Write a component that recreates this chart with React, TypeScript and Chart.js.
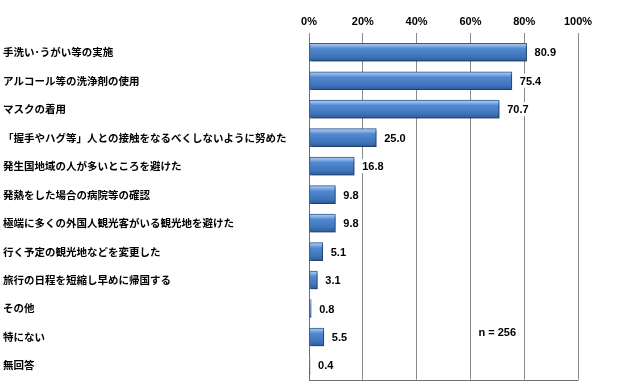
import React, { useEffect, useRef } from "react";
import { Chart, registerables } from "chart.js";
Chart.register(...registerables);

const categories = [
  "手洗い･うがい等の実施",
  "アルコール等の洗浄剤の使用",
  "マスクの着用",
  "「握手やハグ等」人との接触をなるべくしないように努めた",
  "発生国地域の人が多いところを避けた",
  "発熱をした場合の病院等の確認",
  "極端に多くの外国人観光客がいる観光地を避けた",
  "行く予定の観光地などを変更した",
  "旅行の日程を短縮し早めに帰国する",
  "その他",
  "特にない",
  "無回答",
];
const values = [80.9, 75.4, 70.7, 25.0, 16.8, 9.8, 9.8, 5.1, 3.1, 0.8, 5.5, 0.4];
const xMin = 0;
const xMax = 100;
const xStep = 20;
const sampleNote = "n = 256";
const noteAt = { value: 70, row: 10 };

export default function App() {
  const ref = useRef<HTMLCanvasElement | null>(null);
  useEffect(() => {
    const canvas = ref.current;
    if (!canvas) return;
    const barThickness = 18;

    const decor = {
      id: "decor",
      beforeDatasetsDraw(chart: any) {
        const ctx = chart.ctx;
        ctx.save();
        ctx.shadowColor = "rgba(0,0,0,0.4)";
        ctx.shadowOffsetX = 2;
        ctx.shadowOffsetY = 2;
        ctx.shadowBlur = 3;
      },
      afterDatasetsDraw(chart: any) {
        const ctx = chart.ctx;
        ctx.restore();
        const a = chart.chartArea;
        ctx.save();
        ctx.strokeStyle = "#6e6e6e";
        ctx.lineWidth = 1;
        ctx.beginPath();
        ctx.moveTo(a.left, Math.round(a.bottom) + 0.5);
        ctx.lineTo(a.right + 0.5, Math.round(a.bottom) + 0.5);
        ctx.stroke();
        const meta = chart.getDatasetMeta(0);
        ctx.font = "bold 11px 'Liberation Sans', Arial, sans-serif";
        ctx.textBaseline = "middle";
        ctx.textAlign = "left";
        meta.data.forEach((el: any, i: number) => {
          const txt = values[i].toFixed(1);
          const x = el.x + 8;
          const w = ctx.measureText(txt).width;
          ctx.fillStyle = "#ffffff";
          ctx.fillRect(x - 2, el.y - 7, w + 4, 14);
          ctx.fillStyle = "#000000";
          ctx.fillText(txt, x, el.y + 1);
        });
        const xs = chart.scales.x;
        const ys = chart.scales.y;
        const nx = xs.getPixelForValue(noteAt.value);
        const ny = ys.getPixelForValue(noteAt.row) - 4;
        ctx.textAlign = "center";
        const nw = ctx.measureText(sampleNote).width;
        ctx.fillStyle = "#ffffff";
        ctx.fillRect(nx - nw / 2 - 2, ny - 7, nw + 4, 14);
        ctx.fillStyle = "#000000";
        ctx.fillText(sampleNote, nx, ny);
        ctx.restore();
      },
    };

    const chart = new Chart(canvas, {
      type: "bar",
      data: {
        labels: categories,
        datasets: [
          {
            data: values,
            barThickness,
            borderWidth: 1,
            borderColor: "#2f5d94",
            borderSkipped: false,
            backgroundColor: (c: any) => {
              const ch = c.chart;
              const ys = ch.scales && ch.scales.y;
              if (!ys || c.dataIndex === undefined) return "#4f81bd";
              const cy = ys.getPixelForValue(c.dataIndex);
              if (!isFinite(cy)) return "#4f81bd";
              const g = ch.ctx.createLinearGradient(0, cy - barThickness / 2, 0, cy + barThickness / 2);
              g.addColorStop(0, "#b3d0f3");
              g.addColorStop(0.14, "#8ab2e6");
              g.addColorStop(0.3, "#5189d0");
              g.addColorStop(0.75, "#3f74bb");
              g.addColorStop(1, "#2b5a99");
              return g;
            },
          },
        ],
      },
      options: {
        animation: false,
        responsive: false,
        devicePixelRatio: 1,
        indexAxis: "y",
        layout: { padding: { left: 3, top: 10, right: 39, bottom: 4 } },
        plugins: { legend: { display: false }, tooltip: { enabled: false } },
        scales: {
          x: {
            position: "top",
            min: xMin,
            max: xMax,
            ticks: {
              stepSize: xStep,
              callback: (v: any) => v + "%",
              color: "#000",
              padding: 4,
              font: { family: "'Liberation Sans', Arial, sans-serif", size: 11, weight: "bold" },
            },
            grid: { color: "#8a8a8a", tickLength: 5, lineWidth: 1 },
            border: { display: false },
            afterFit: (axis: any) => {
              axis.height = 28;
            },
          },
          y: {
            ticks: {
              crossAlign: "far",
              color: "#000",
              font: { family: "'Noto Sans CJK JP', sans-serif", size: 10.5, weight: "bold" },
            },
            grid: { display: false },
            border: { display: true, color: "#6e6e6e" },
            afterFit: (axis: any) => {
              axis.width = 306;
            },
          },
        },
      } as any,
      plugins: [decor],
    });
    return () => chart.destroy();
  }, []);
  return (
    <div style={{ position: "fixed", left: 0, top: 0, width: 617, height: 389, background: "#fff" }}>
      <canvas ref={ref} width={617} height={389} style={{ width: 617, height: 389 }} />
    </div>
  );
}
